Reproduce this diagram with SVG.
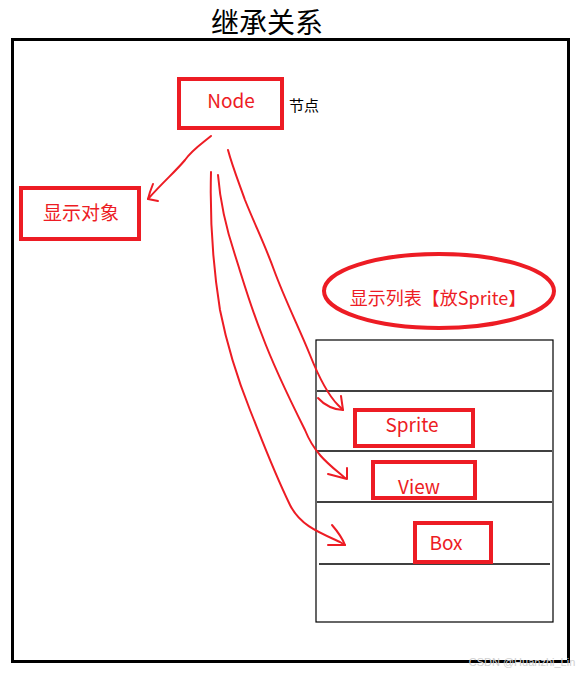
<svg xmlns="http://www.w3.org/2000/svg" width="580" height="673" viewBox="0 0 580 673">
<style>
.box{fill:none;stroke:#ed1c24;stroke-width:4}
.t{font-family:"Microsoft YaHei","Noto Sans CJK SC","Liberation Sans",sans-serif;fill:#ed1c24;font-size:19px;text-anchor:middle}
.blk{fill:#000}
.line{stroke:#000;stroke-width:1.3}
.c{fill:none;stroke:#ed1c24;stroke-width:2;stroke-linecap:round;stroke-linejoin:round}
</style>
<rect width="580" height="673" fill="#fff"/>
<text x="267" y="33" class="t blk" style="font-size:28px">继承关系</text>
<rect x="12.5" y="39.5" width="556" height="622" fill="none" stroke="#000" stroke-width="3"/>

<g id="list">
<rect x="316" y="340" width="237" height="282" fill="none" stroke="#000" stroke-width="1.2"/>
<line class="line" x1="317" y1="391" x2="552" y2="391"/>
<line class="line" x1="317" y1="451" x2="552" y2="451"/>
<line class="line" x1="317" y1="502" x2="552" y2="502"/>
<line class="line" x1="319" y1="564" x2="550" y2="564"/>
</g>

<g id="node">
<rect class="box" x="179" y="79" width="103" height="49"/>
<text class="t" x="231" y="108">Node</text>
<text class="t blk" x="304" y="111" style="font-size:15px">节点</text>
</g>
<g id="display">
<rect class="box" x="21" y="188" width="118" height="51"/>
<text class="t" x="81" y="220">显示对象</text>
</g>
<g id="displaylist">
<ellipse cx="439" cy="291" rx="115" ry="37" fill="none" stroke="#ed1c24" stroke-width="4"/>
<text class="t" x="438" y="305" style="font-size:18px">显示列表【放Sprite】</text>
</g>
<g id="sprite">
<rect class="box" x="355" y="410" width="118" height="36"/>
<text class="t" x="412" y="432">Sprite</text>
</g>
<g id="view">
<rect class="box" x="373" y="462" width="102" height="36"/>
<text class="t" x="419" y="494">View</text>
</g>
<g id="box">
<rect class="box" x="415" y="523" width="76" height="39"/>
<text class="t" x="446" y="550">Box</text>
</g>

<g id="connectors">
<path class="c" d="M211,136 C200,145 192,150 185,160 C175,172 165,180 148,199"/>
<path class="c" d="M153,184 L150,192 L148,199 L158,201"/>
<path class="c" d="M228,150 C232,165 236,175 245,200 C255,225 265,245 274,270 C285,300 300,330 310,355 C320,380 328,395 338,405 L343,410"/>
<path class="c" d="M341,396 L343,410 C335,410 325,406 318,398"/>
<path class="c" d="M218,175 C220,200 225,225 235,255 C243,280 250,305 262,335 C275,370 290,400 305,430 C315,455 330,465 345,478"/>
<path class="c" d="M347,468 L347,479 L328,474"/>
<path class="c" d="M211,172 C210,210 212,260 220,310 C228,350 238,380 250,410 C262,440 273,470 290,505 C300,525 318,532 340,542 L345,545"/>
<path class="c" d="M332,525 C338,532 343,540 345,545 L328,545"/>
</g>
<text x="522" y="666" style="font-family:'Liberation Sans',sans-serif;font-size:11px;fill:#d0d0d0;text-anchor:middle">CSDN @Huanzhi_Lin</text>
</svg>
